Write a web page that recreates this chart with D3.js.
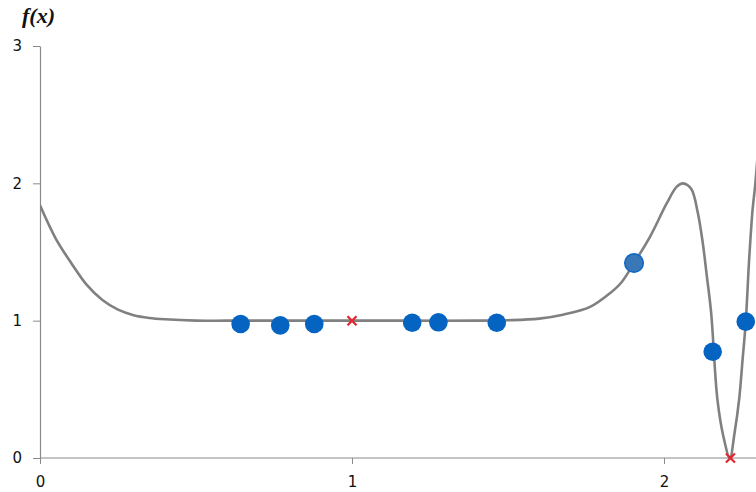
<!DOCTYPE html>
<html>
<head>
<meta charset="utf-8">
<script src="https://cdn.jsdelivr.net/npm/d3@7"></script>
<style>
  body { margin: 0; background: #fff; }
  svg { display: block; }
</style>
</head>
<body>
<script>
// -------------------- DATA --------------------
// curve f(x)
var curveX = [0, 0.05, 0.1, 0.15, 0.2, 0.25, 0.3, 0.35, 0.4, 0.5, 0.6, 0.8, 1.0, 1.2, 1.4, 1.5, 1.6, 1.68, 1.763, 1.827, 1.864, 1.904, 1.955, 2.009, 2.041, 2.061, 2.087, 2.108, 2.124, 2.137, 2.151, 2.171, 2.19, 2.211, 2.226, 2.241, 2.252, 2.262, 2.273, 2.284, 2.292, 2.3];
var curveY = [1.84, 1.60, 1.42, 1.26, 1.15, 1.08, 1.04, 1.02, 1.01, 1.0, 1.0, 1.0, 1.0, 1.0, 1.0, 1.003, 1.015, 1.045, 1.10, 1.20, 1.28, 1.42, 1.61, 1.855, 1.976, 2.0, 1.96, 1.79, 1.57, 1.33, 1.06, 0.43, 0.16, 0.0, 0.18, 0.43, 0.72, 0.99, 1.45, 1.81, 1.98, 2.2];

// sample points (blue dots)
var dotX = [0.643, 0.770, 0.879, 1.193, 1.277, 1.464, 1.904, 2.156, 2.262];
var dotY = [0.976, 0.966, 0.976, 0.985, 0.988, 0.985, 1.42, 0.774, 0.993];

// marked points (red crosses)
var markX = [1.0, 2.213];
var markY = [1.0, 0.0];

var xTicks = [0, 1, 2];
var yTicks = [0, 1, 2, 3];

// -------------------- DIMENSIONS --------------------
var w = 756, h = 492;
var x0 = 40, x2 = 664;      // pixel of x=0 and x=2
var yBottom = 458, yTop = 46;

var x = d3.scaleLinear().domain([0, 2]).range([x0, x2]);
var y = d3.scaleLinear().domain([0, 3]).range([yBottom, yTop]);

var svg = d3.select("body").append("svg")
  .attr("width", w)
  .attr("height", h);

// -------------------- AXES --------------------
var axisColor = "#8a8a8a";
var fmt = d3.format("d");

var yAxis = svg.append("g")
  .attr("transform", "translate(" + x0 + ",0)")
  .call(d3.axisLeft(y).tickValues(yTicks).tickFormat(fmt).tickSize(7).tickSizeOuter(0).tickPadding(11));

var xAxis = svg.append("g")
  .attr("transform", "translate(0," + yBottom + ")")
  .call(d3.axisBottom(x).tickValues(xTicks).tickFormat(fmt).tickSize(6).tickSizeOuter(0).tickPadding(12));

// x axis runs to the right edge
xAxis.select(".domain").attr("d", "M" + x0 + ",0H" + w);

[xAxis, yAxis].forEach(function(a) {
  a.select(".domain").attr("stroke", axisColor).attr("stroke-width", 1.2);
  a.selectAll(".tick line").attr("stroke", axisColor).attr("stroke-width", 1);
  a.selectAll(".tick text")
    .attr("fill", "#111")
    .style("font-family", "'DejaVu Sans', sans-serif")
    .style("font-size", "15px");
});

// f(x) label
svg.append("text")
  .attr("x", 22)
  .attr("y", 23)
  .text("f(x)")
  .style("font-family", "'Liberation Serif', 'DejaVu Serif', serif")
  .style("font-style", "italic")
  .style("font-weight", "bold")
  .style("font-size", "22px")
  .attr("fill", "#111");

// -------------------- CURVE --------------------
svg.append("clipPath").attr("id", "plotclip")
  .append("rect").attr("x", x0).attr("y", 0).attr("width", w - x0).attr("height", yBottom + 2);

var line = d3.line()
  .x(function(d) { return x(d[0]); })
  .y(function(d) { return y(d[1]); })
  .curve(d3.curveCatmullRom.alpha(0.5));

svg.append("path")
  .datum(d3.zip(curveX, curveY))
  .attr("clip-path", "url(#plotclip)")
  .attr("d", line)
  .attr("fill", "none")
  .attr("stroke", "#808080")
  .attr("stroke-width", 2.6);

// -------------------- DOTS --------------------
svg.selectAll("circle.dot")
  .data(d3.zip(dotX, dotY))
  .enter()
  .append("circle")
  .attr("class", "dot")
  .attr("cx", function(d) { return x(d[0]); })
  .attr("cy", function(d) { return y(d[1]); })
  .attr("r", 9.3)
  .attr("fill", function(d, i) { return i === 6 ? "#3a77b7" : "#0563c1"; })
  .attr("stroke", function(d, i) { return i === 6 ? "#0a66c8" : "none"; })
  .attr("stroke-width", 1.5);

// -------------------- CROSSES --------------------
svg.selectAll("path.mark")
  .data(d3.zip(markX, markY))
  .enter()
  .append("path")
  .attr("class", "mark")
  .attr("transform", function(d) { return "translate(" + x(d[0]) + "," + y(d[1]) + ")"; })
  .attr("d", "M-4.5,-4.5L4.5,4.5M-4.5,4.5L4.5,-4.5")
  .attr("stroke", "#e3232c")
  .attr("stroke-width", 2.2)
  .attr("fill", "none");
</script>
</body>
</html>
